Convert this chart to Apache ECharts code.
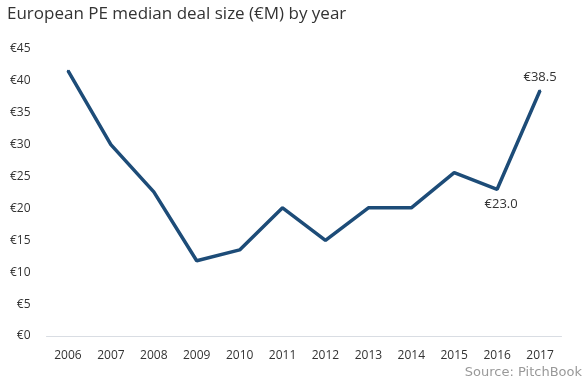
<!DOCTYPE html>
<html><head><meta charset="utf-8">
<script src="https://cdn.jsdelivr.net/npm/echarts@6/dist/echarts.min.js"></script>
<style>html,body{margin:0;padding:0;background:#fff}#c{width:586px;height:383px}</style>
</head><body><div id="c"></div>
<script>
const years = ['2006','2007','2008','2009','2010','2011','2012','2013','2014','2015','2016','2017'];
const medianDealSize = [41.6, 30.0, 22.6, 11.8, 13.5, 20.1, 15.0, 20.1, 20.1, 25.6, 23.0, 38.5];
const labelledYears = ['2016','2017'];

const chart = echarts.init(document.getElementById('c'));
chart.setOption({
  animation: false,
  title: {
    text: 'European PE median deal size (€M) by year',
    left: 2, top: 1,
    textStyle: {fontFamily: 'Open Sans', fontWeight: 'normal', fontSize: 17, color: '#333'}
  },
  graphic: [{
    type: 'text', right: 4, top: 366,
    style: {text: 'Source: PitchBook', fill: '#999', font: '13px "DejaVu Sans"'}
  }],
  grid: {left: 46.5, right: 24.5, top: 49, bottom: 47},
  xAxis: {
    type: 'category', data: years, boundaryGap: true,
    axisLine: {lineStyle: {color: '#d9dde3', width: 1}},
    axisTick: {show: false},
    axisLabel: {color: '#333', fontFamily: 'Open Sans', fontSize: 12, margin: 14}
  },
  yAxis: {
    type: 'value', min: 0, max: 45, interval: 5,
    splitLine: {show: false},
    axisLine: {show: false}, axisTick: {show: false},
    axisLabel: {color: '#333', fontFamily: 'Open Sans', fontSize: 12, margin: 16,
      formatter: v => '€' + v}
  },
  series: [{
    type: 'line',
    data: medianDealSize.map((v, i) => ({
      value: v,
      label: labelledYears.includes(years[i]) ? {
        show: true,
        position: years[i] === '2016' ? 'bottom' : 'top',
        distance: years[i] === '2016' ? 7 : 6,
        offset: years[i] === '2016' ? [4, 0] : [0, 0],
        formatter: p => '€' + p.value.toFixed(1)
      } : {show: false}
    })),
    symbol: 'circle', symbolSize: 2, showSymbol: true,
    itemStyle: {color: '#1d4c78'},
    lineStyle: {color: '#1d4c78', width: 3.5},
    label: {color: '#333', fontFamily: 'Open Sans', fontSize: 13}
  }]
});
</script></body></html>
